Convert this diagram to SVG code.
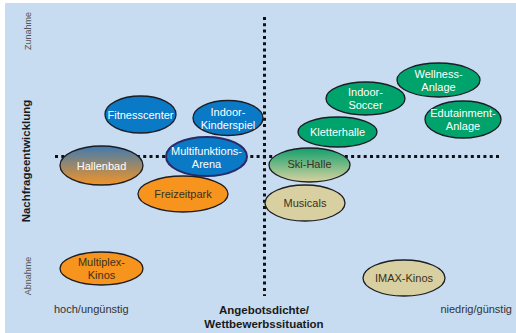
<svg xmlns="http://www.w3.org/2000/svg" width="516" height="333" viewBox="0 0 516 333">
<defs>
<linearGradient id="gHallen" x1="0" y1="0" x2="0" y2="1">
<stop offset="0" stop-color="#3f7bb0"/>
<stop offset="1" stop-color="#f39426"/>
</linearGradient>
<linearGradient id="gSki" x1="0" y1="0" x2="0" y2="1">
<stop offset="0" stop-color="#12a06c"/>
<stop offset="1" stop-color="#d8d2a0"/>
</linearGradient>
<style>
.bg{fill:#c7dcf0}
.dot{stroke:#111;stroke-width:3;stroke-dasharray:3 3.3;fill:none}
ellipse{stroke:#1c1c24;stroke-width:1.3}
.blue{fill:#0a79c6}
.green{fill:#00a36b}
.orange{fill:#f7941d}
.khaki{fill:#d8d0a0}
.lw{font-family:"Liberation Sans",Arial,sans-serif;font-size:11px;fill:#fff;text-anchor:middle}
.ld{font-family:"Liberation Sans",Arial,sans-serif;font-size:11px;fill:#3a3020;text-anchor:middle}
.ax{font-family:"Liberation Sans",Arial,sans-serif;font-size:9px;fill:#555;text-anchor:middle}
.axb{font-family:"Liberation Sans",Arial,sans-serif;font-size:11.5px;font-weight:bold;fill:#1a1a1a;text-anchor:middle}
.lab{font-family:"Liberation Sans",Arial,sans-serif;font-size:11px;fill:#333}
</style>
</defs>
<rect x="0" y="0" width="516" height="333" fill="#fff"/>
<rect class="bg" x="5" y="3" width="511" height="330"/>
<g id="connectors">
<line class="dot" x1="264.5" y1="17" x2="264.5" y2="296"/>
<line class="dot" x1="55" y1="156.5" x2="502" y2="156.5"/>
</g>
<g id="axes">
<text class="ax" transform="translate(31,31) rotate(-90)">Zunahme</text>
<text class="ax" transform="translate(31,276) rotate(-90)">Abnahme</text>
<text class="axb" transform="translate(30,161) rotate(-90)">Nachfrageentwicklung</text>
<text class="lab" x="54" y="313">hoch/ungünstig</text>
<text class="lab" x="512" y="313" text-anchor="end">niedrig/günstig</text>
<text class="axb" x="264" y="314" font-size="11px">Angebotsdichte/</text>
<text class="axb" x="264" y="328" font-size="11px">Wettbewerbssituation</text>
</g>
<g id="fitnesscenter">
<ellipse class="blue" cx="140.5" cy="114.5" rx="35.5" ry="18.5"/>
<text class="lw" x="140.5" y="118.5">Fitnesscenter</text>
</g>
<g id="indoor-kinderspiel">
<ellipse class="blue" cx="228" cy="118" rx="35" ry="17.5"/>
<text class="lw" x="228" y="116">Indoor-</text>
<text class="lw" x="228" y="129">Kinderspiel</text>
</g>
<g id="hallenbad">
<ellipse fill="url(#gHallen)" cx="101.5" cy="165.5" rx="41.5" ry="19.5"/>
<text class="lw" x="101.5" y="169.5">Hallenbad</text>
</g>
<g id="multifunktions-arena">
<ellipse class="blue" cx="206.5" cy="156.5" rx="40.5" ry="19.5" style="stroke:#2b2a6a;stroke-width:2"/>
<text class="lw" x="206.5" y="154.5">Multifunktions-</text>
<text class="lw" x="206.5" y="167.5">Arena</text>
</g>
<g id="freizeitpark">
<ellipse class="orange" cx="183" cy="194" rx="45" ry="18"/>
<text class="ld" x="183" y="198">Freizeitpark</text>
</g>
<g id="multiplex-kinos">
<ellipse class="orange" cx="101.5" cy="268.5" rx="41.5" ry="16.5"/>
<text class="ld" x="101.5" y="266">Multiplex-</text>
<text class="ld" x="101.5" y="279">Kinos</text>
</g>
<g id="wellness-anlage">
<ellipse class="green" cx="438.5" cy="80" rx="41.5" ry="17"/>
<text class="lw" x="438.5" y="77.5">Wellness-</text>
<text class="lw" x="438.5" y="90.5">Anlage</text>
</g>
<g id="indoor-soccer">
<ellipse class="green" cx="365.5" cy="98.5" rx="39.5" ry="16.5"/>
<text class="lw" x="365.5" y="96">Indoor-</text>
<text class="lw" x="365.5" y="109">Soccer</text>
</g>
<g id="edutainment-anlage">
<ellipse class="green" cx="463" cy="119.5" rx="38" ry="18.5"/>
<text class="lw" x="463" y="117">Edutainment-</text>
<text class="lw" x="463" y="130">Anlage</text>
</g>
<g id="kletterhalle">
<ellipse class="green" cx="337.5" cy="132" rx="39.5" ry="15"/>
<text class="lw" x="337.5" y="136">Kletterhalle</text>
</g>
<g id="ski-halle">
<ellipse fill="url(#gSki)" cx="309.5" cy="165" rx="40.5" ry="17"/>
<text class="ld" x="309.5" y="168">Ski-Halle</text>
</g>
<g id="musicals">
<ellipse class="khaki" cx="305" cy="203" rx="40" ry="18"/>
<text class="ld" x="305" y="207">Musicals</text>
</g>
<g id="imax-kinos">
<ellipse class="khaki" cx="404" cy="278" rx="41" ry="18"/>
<text class="ld" x="404" y="282">IMAX-Kinos</text>
</g>
</svg>
